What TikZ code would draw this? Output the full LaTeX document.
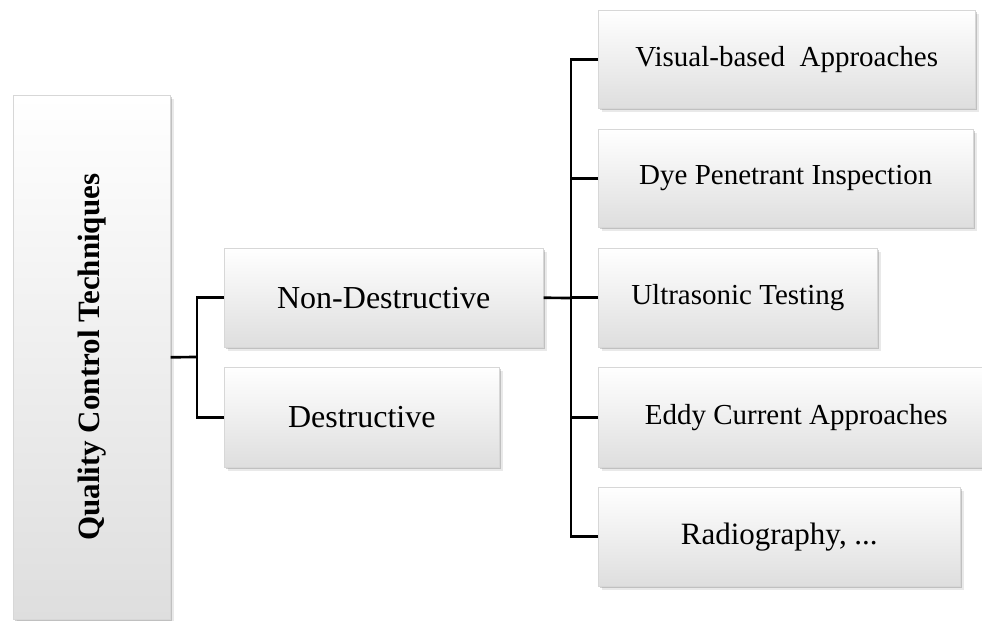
\documentclass[tikz,border=0pt]{standalone}
\usepackage{fontspec}
\setmainfont{Liberation Serif}
\usepackage{graphicx}
\usetikzlibrary{shadows}
\definecolor{qcedge}{RGB}{215,215,215}
\definecolor{qcfoot}{RGB}{222,222,222}
\definecolor{qcshade}{RGB}{70,70,70}
\tikzset{
  qcbox/.style={
    draw=qcedge, line width=0.4pt, top color=white, middle color=white, bottom color=qcfoot,
    align=center, inner sep=0pt, minimum height=74.25pt, anchor=north west,
    drop shadow={shadow xshift=2.6pt, shadow yshift=-2.6pt, fill=qcshade, opacity=0.12},
    drop shadow={shadow xshift=1.5pt, shadow yshift=-1.5pt, fill=qcshade, opacity=0.25}
  },
  root/.style={qcbox, minimum width=117.75pt, minimum height=393pt,
    font=\fontsize{23.25}{28}\selectfont\bfseries},
  kind/.style={qcbox, font=\fontsize{24}{29}\selectfont},
  leaf/.style={qcbox, font=\fontsize{21.75}{26}\selectfont},
  link/.style={draw=black, line width=2pt}
}
\begin{document}
\begin{tikzpicture}[x=0.75pt,y=-0.75pt]
  \useasboundingbox (0,0) rectangle (982,621);
  % root and first level
  \node[root] (qct) at (13,95) {\rotatebox{90}{Quality Control Techniques}};
  \node[kind, minimum width=239.25pt] (nondes) at (224,248) {Non-Destructive};
  \node[kind, minimum width=206.25pt, minimum height=75pt] (des) at (224,367) {Destructive};
  % non-destructive methods
  \node[leaf, minimum width=282.75pt, minimum height=73.5pt] (visual) at (598,10) {Visual-based~ Approaches};
  \node[leaf, minimum width=281.25pt, minimum height=73.5pt] (dye) at (598,129) {Dye Penetrant Inspection};
  \node[leaf, minimum width=209.25pt] (ultra) at (598,248) {Ultrasonic Testing};
  \node[leaf, minimum width=297pt, minimum height=75pt] (eddy) at (598,367) {Eddy Current Approaches};
  \node[leaf, minimum width=271.5pt, font=\fontsize{23.25}{28}\selectfont] (radio) at (598,487) {Radiography, ...};
  % connectors
  \coordinate (qjoin) at (197,357);
  \coordinate (njoin) at (571,298);
  \draw[link] (qct.east) -- (qjoin);
  \foreach \k in {nondes,des}
    \draw[link] (\k.west) -| (qjoin);
  \draw[link] (nondes.east) -- (njoin);
  \foreach \k in {visual,dye,ultra,eddy,radio}
    \draw[link] (\k.west) -| (njoin);
\end{tikzpicture}
\end{document}
